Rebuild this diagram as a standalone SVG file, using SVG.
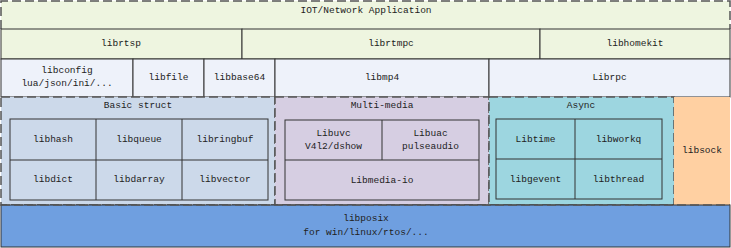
<svg xmlns="http://www.w3.org/2000/svg" width="731" height="248" viewBox="0 0 731 248">
<style>
text{font-family:"Liberation Mono","DejaVu Sans Mono",monospace;font-size:9.5px;fill:#222;text-anchor:middle;dominant-baseline:central}
.s{stroke:#333;stroke-width:1}
.d{stroke:#555;stroke-width:1.5;stroke-dasharray:9 4;fill:none}
.g{fill:#EEF5E0}
.b{fill:#EEF2FA}
</style>
<rect width="731" height="248" fill="#ffffff"/>
<g id="app">
<rect x="1" y="1" width="729" height="28" class="g"/>
<path d="M1,29 V1 H730 V29" class="d"/>
<text x="366" y="10">IOT/Network Application</text>
</g>
<g id="librtsp"><rect x="1" y="29" width="241" height="30" class="g s"/><text x="121" y="43">librtsp</text></g>
<g id="librtmpc"><rect x="242" y="29" width="298" height="30" class="g s"/><text x="391" y="43">librtmpc</text></g>
<g id="libhomekit"><rect x="540" y="29" width="190" height="30" class="g s"/><text x="635" y="43">libhomekit</text></g>
<g id="libconfig"><rect x="1" y="59" width="132" height="38" class="b s"/><text x="67" y="70">libconfig</text><text x="67" y="83">lua/json/ini/...</text></g>
<g id="libfile"><rect x="133" y="59" width="71" height="38" class="b s"/><text x="168.5" y="77">libfile</text></g>
<g id="libbase64"><rect x="204" y="59" width="71" height="38" class="b s"/><text x="239.5" y="77">libbase64</text></g>
<g id="libmp4"><rect x="275" y="59" width="214" height="38" class="b s"/><text x="382" y="77">libmp4</text></g>
<g id="librpc"><rect x="489" y="59" width="241" height="38" class="b s"/><text x="609.5" y="77">Librpc</text></g>
<g id="basic">
<rect x="1" y="97" width="274" height="108" fill="#CCD9EA"/>
<rect x="1" y="97" width="274" height="108" class="d"/>
<text x="138" y="105">Basic struct</text>
<g fill="none" class="s"><rect x="10" y="119" width="258" height="81"/><path d="M10,160H268M96,119V200M182,119V200"/></g>
<text x="53" y="139">libhash</text><text x="139" y="139">libqueue</text><text x="225" y="139">libringbuf</text>
<text x="53" y="179">libdict</text><text x="139" y="179">libdarray</text><text x="225" y="179">libvector</text>
</g>
<g id="multimedia">
<rect x="275" y="97" width="214" height="108" fill="#D6CEE2"/>
<rect x="275" y="97" width="214" height="108" class="d"/>
<text x="382" y="105">Multi-media</text>
<g fill="none" class="s"><rect x="285" y="120" width="194" height="80"/><path d="M285,160H479M382,120V160"/></g>
<text x="333.5" y="133">Libuvc</text><text x="333.5" y="146">V4l2/dshow</text>
<text x="430.5" y="133">Libuac</text><text x="430.5" y="146">pulseaudio</text>
<text x="382" y="180">Libmedia-io</text>
</g>
<g id="async">
<rect x="489" y="97" width="185" height="108" fill="#9DD6E0"/>
<rect x="489" y="97" width="185" height="108" class="d"/>
<text x="581" y="105">Async</text>
<g fill="none" class="s"><rect x="496" y="119" width="166" height="80"/><path d="M496,159H662M575,119V199"/></g>
<text x="535.5" y="139">Libtime</text><text x="618.5" y="139">libworkq</text>
<text x="535.5" y="179">libgevent</text><text x="618.5" y="179">libthread</text>
</g>
<g id="libsock"><rect x="674" y="97" width="56" height="108" fill="#FFD0A2"/><text x="702" y="150">libsock</text></g>
<g id="libposix">
<rect x="1" y="205" width="729" height="42" fill="#6F9FE0" stroke="#333" stroke-width="1"/>
<path d="M1,205H730" class="d"/>
<text x="366" y="218">libposix</text><text x="366" y="232">for win/linux/rtos/...</text>
</g>
<g id="connectors"></g>
</svg>
